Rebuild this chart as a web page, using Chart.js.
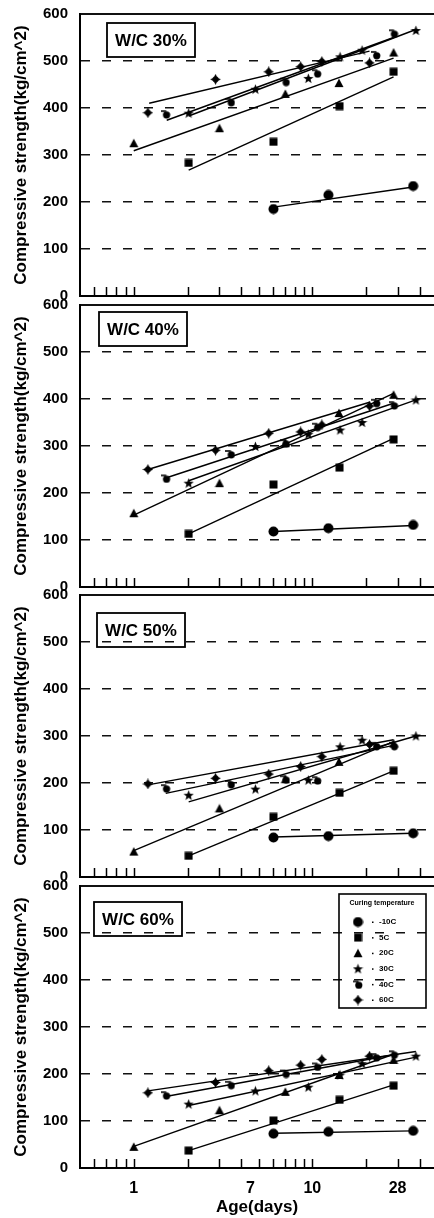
<!DOCTYPE html>
<html lang="en">
<head>
    <meta charset="UTF-8">
    <title>Compressive strength vs age</title>
    <style>
        * { margin: 0; padding: 0; box-sizing: border-box; }
        body { background: #fff; width: 434px; height: 1218px; overflow: hidden; position: relative; }
        .panel { position: absolute; left: 0; width: 434px; }
    </style>
</head>
<body>
    <div class="panel" id="p0"><canvas id="c0"></canvas></div>
    <div class="panel" id="p1"><canvas id="c1"></canvas></div>
    <div class="panel" id="p2"><canvas id="c2"></canvas></div>
    <div class="panel" id="p3"><canvas id="c3"></canvas></div>

    <script src="https://cdn.jsdelivr.net/npm/chart.js"></script>
    <script>
        // ---- data ----
        const panelTitles = ['W/C 30%', 'W/C 40%', 'W/C 50%', 'W/C 60%'];
        const tempLabels = ['-10C', '5C', '20C', '30C', '40C', '60C'];

        // ages (days, as placed on the log axis) for each curing temperature
        const ageM10 = [6.06, 12.3, 36.7];
        const age5 = [2.03, 6.06, 14.2, 28.5];
        const age20 = [1, 3.02, 7.06, 14.1, 28.5];
        const age30 = [2.03, 4.8, 9.5, 14.3, 19, 38];
        const age40 = [1.51, 3.48, 7.06, 10.6, 22.7, 28.5];
        const age60 = [1.2, 2.87, 5.7, 8.6, 11.3, 20.9];
        const ages = [ageM10, age5, age20, age30, age40, age60];

        // strength (kg/cm^2), one row per temperature
        const wc30 = [
            [185, 215, 234],
            [283, 328, 404, 477],
            [325, 357, 430, 453, 518],
            [389, 440, 463, 509, 523, 565],
            [387, 413, 456, 474, 513, 559],
            [390, 461, 477, 488, 499, 496]
        ];
        const wc40 = [
            [118, 125, 132],
            [113, 218, 254, 314],
            [157, 221, 306, 370, 409],
            [221, 299, 325, 334, 350, 398],
            [231, 283, 306, 341, 392, 387],
            [250, 291, 327, 330, 345, 385]
        ];
        const wc50 = [
            [84, 87, 93],
            [45, 128, 179, 226],
            [54, 146, 208, 245, 284],
            [174, 187, 206, 277, 291, 300],
            [189, 198, 208, 206, 279, 279],
            [198, 210, 219, 235, 256, 282]
        ];
        const wc60 = [
            [73, 77, 79],
            [37, 101, 145, 175],
            [45, 123, 162, 198, 230],
            [136, 164, 172, 198, 222, 238],
            [155, 177, 201, 216, 236, 242],
            [160, 182, 207, 219, 231, 238]
        ];

        // fitted lines: [age start, strength start, age end, strength end]
        const fit30 = [[6.06, 189, 36.7, 232], [2.03, 268, 28.5, 466], [1, 309, 28.5, 506],
                       [2.03, 383, 38, 567], [1.53, 374, 28.5, 550], [1.22, 410, 20.9, 521]];
        const fit40 = [[6.06, 118, 36.7, 131], [2.03, 113, 28.5, 316], [1, 153, 28.5, 412],
                       [2.03, 226, 38, 398], [1.51, 232, 28.5, 391], [1.2, 250, 20.9, 393]];
        const fit50 = [[6.06, 85, 36.7, 93], [2.03, 45, 28.5, 226], [1, 56, 28.5, 288],
                       [2.03, 160, 38, 300], [1.51, 178, 28.5, 280], [1.2, 196, 28.5, 292]];
        const fit60 = [[6.06, 74, 36.7, 79], [2.03, 37, 28.5, 177], [1, 46, 28.5, 242],
                       [2.03, 133, 38, 236], [1.51, 152, 28.5, 241], [1.2, 164, 38, 248]];

        const strengths = [wc30, wc40, wc50, wc60];
        const fits = [fit30, fit40, fit50, fit60];

        // axis ticks
        const xTickValues = [1, 4.5, 10, 30];
        const xTickLabels = ['1', '7', '10', '28'];
        const minorTicks = [0.6, 0.7, 0.8, 0.9, 1, 2, 3, 4, 5, 6, 7, 8, 9, 10, 20, 30, 40];

        // ---- layout ----
        const panelTop = [0, 291, 581, 872];
        const panelHeight = [308, 308, 308, 346];
        const boxPos = [[27, 9], [19, 7], [17, 18], [14, 16]];

        Chart.defaults.font.family = '"Liberation Sans", Arial, sans-serif';
        Chart.defaults.color = '#000';
        Chart.defaults.animation = false;

        // marker images
        function makeMark(size, draw) {
            const c = document.createElement('canvas');
            c.width = size;
            c.height = size;
            const g = c.getContext('2d');
            g.fillStyle = '#000';
            g.strokeStyle = '#000';
            draw(g, size);
            return c;
        }
        const circleMark = makeMark(11, (g, s) => { g.beginPath(); g.arc(s / 2, s / 2, 5, 0, Math.PI * 2); g.fill(); });
        const squareMark = makeMark(9, (g, s) => { g.fillRect(0.5, 0.5, 8, 8); });
        const triMark = makeMark(10, (g, s) => {
            g.beginPath(); g.moveTo(5, 0.5); g.lineTo(9.5, 9); g.lineTo(0.5, 9); g.closePath(); g.fill();
        });
        const starMark = makeMark(11, (g, s) => {
            g.beginPath();
            for (let i = 0; i < 10; i++) {
                const a = -Math.PI / 2 + i * Math.PI / 5;
                const r = i % 2 ? 2.3 : 5.4;
                g.lineTo(5.5 + r * Math.cos(a), 5.8 + r * Math.sin(a));
            }
            g.closePath(); g.fill();
        });
        const hookMark = makeMark(10, (g, s) => {
            g.lineWidth = 1.6;
            g.beginPath(); g.moveTo(0, 2); g.lineTo(5.5, 2); g.stroke();
            g.beginPath(); g.arc(5.8, 5.8, 3.6, 0, Math.PI * 2); g.fill();
        });
        const crossMark = makeMark(11, (g, s) => {
            g.beginPath();
            for (let i = 0; i < 8; i++) {
                const a = -Math.PI / 2 + i * Math.PI / 4;
                const r = i % 2 ? 2.6 : 5.4;
                g.lineTo(5.5 + r * Math.cos(a), 5.5 + r * Math.sin(a));
            }
            g.closePath(); g.fill();
            g.beginPath(); g.arc(5.5, 5.5, 3, 0, Math.PI * 2); g.fill();
        });
        const marks = [circleMark, squareMark, triMark, starMark, hookMark, crossMark];

        // small upward tick marks on the bottom axis
        const tickMarks = {
            id: 'tickMarks',
            afterDraw(chart) {
                const sx = chart.scales.x;
                const y = chart.chartArea.bottom;
                const ctx = chart.ctx;
                ctx.save();
                ctx.strokeStyle = '#000';
                ctx.lineWidth = 1.5;
                minorTicks.forEach(v => {
                    const px = Math.round(sx.getPixelForValue(v)) + 0.5;
                    ctx.beginPath();
                    ctx.moveTo(px, y);
                    ctx.lineTo(px, y - 9);
                    ctx.stroke();
                });
                ctx.restore();
            }
        };

        function panelBox(p) {
            return {
                id: 'panelBox' + p,
                afterDatasetsDraw(chart) {
                    const a = chart.chartArea;
                    const ctx = chart.ctx;
                    const bx = a.left + boxPos[p][0];
                    const by = a.top + boxPos[p][1];
                    ctx.save();
                    ctx.lineWidth = 1.8;
                    ctx.strokeStyle = '#000';
                    ctx.strokeRect(bx, by, 88, 34);
                    ctx.fillStyle = '#000';
                    ctx.font = 'bold 17px "Liberation Sans", Arial, sans-serif';
                    ctx.textAlign = 'center';
                    ctx.textBaseline = 'middle';
                    ctx.fillText(panelTitles[p], bx + 44, by + 18);
                    ctx.restore();
                }
            };
        }

        const legendBox = {
            id: 'legendBox',
            afterDatasetsDraw(chart) {
                const a = chart.chartArea;
                const ctx = chart.ctx;
                const bx = a.left + 259;
                const by = a.top + 8;
                ctx.save();
                ctx.lineWidth = 1.6;
                ctx.strokeStyle = '#000';
                ctx.strokeRect(bx, by, 87, 114);
                ctx.fillStyle = '#000';
                ctx.font = 'bold 7px "Liberation Sans", Arial, sans-serif';
                ctx.textBaseline = 'middle';
                ctx.textAlign = 'center';
                ctx.fillText('Curing temperature', bx + 43, by + 9);
                ctx.textAlign = 'left';
                ctx.font = 'bold 8px "Liberation Sans", Arial, sans-serif';
                tempLabels.forEach((t, i) => {
                    const y = by + 28 + i * 15.6;
                    const m = marks[i];
                    ctx.drawImage(m, bx + 19 - m.width / 2, y - m.height / 2);
                    ctx.fillRect(bx + 33, y - 0.5, 1.5, 1.5);
                    ctx.fillText(t, bx + 40, y);
                });
                ctx.restore();
            }
        };

        function buildChart(p) {
            const last = p === 3;
            const wrap = document.getElementById('p' + p);
            wrap.style.top = panelTop[p] + 'px';
            wrap.style.height = panelHeight[p] + 'px';

            const datasets = [];
            for (let i = 0; i < 6; i++) {
                const f = fits[p][i];
                datasets.push({
                    data: [{ x: f[0], y: f[1] }, { x: f[2], y: f[3] }],
                    showLine: true,
                    borderColor: '#000',
                    borderWidth: 1.4,
                    pointRadius: 0
                });
                datasets.push({
                    data: ages[i].map((x, j) => ({ x: x, y: strengths[p][i][j] })),
                    pointStyle: marks[i],
                    pointRadius: 4,
                    borderColor: '#000',
                    backgroundColor: '#000'
                });
            }

            new Chart(document.getElementById('c' + p), {
                type: 'scatter',
                data: { datasets: datasets },
                options: {
                    responsive: true,
                    maintainAspectRatio: false,
                    layout: { autoPadding: false, padding: { top: 14, left: 0, right: 0, bottom: 0 } },
                    plugins: { legend: { display: false }, tooltip: { enabled: false } },
                    scales: {
                        x: {
                            type: 'logarithmic',
                            min: 0.5,
                            max: 48,
                            afterFit: s => { s.height = last ? 50 : 12; },
                            afterBuildTicks: s => { s.ticks = xTickValues.map(v => ({ value: v })); },
                            grid: { display: false, drawTicks: false },
                            border: { width: 2, color: '#000' },
                            ticks: {
                                display: last,
                                autoSkip: false,
                                maxRotation: 0,
                                padding: 11,
                                color: '#000',
                                font: { size: 16, weight: 'bold' },
                                callback: (v, i) => xTickLabels[i]
                            },
                            title: {
                                display: last,
                                text: 'Age(days)',
                                color: '#000',
                                font: { size: 17, weight: 'bold' },
                                padding: 0
                            }
                        },
                        y: {
                            min: 0,
                            max: 600,
                            afterFit: s => { s.width = 80; },
                            ticks: {
                                stepSize: 100,
                                padding: 0,
                                color: '#000',
                                font: { size: 15, weight: 'bold' }
                            },
                            grid: {
                                drawTicks: true,
                                tickLength: 12,
                                tickColor: 'rgba(0,0,0,0)',
                                color: c => (c.tick && c.tick.value === 0) ? 'rgba(0,0,0,0)' : '#111',
                                lineWidth: c => (c.tick && c.tick.value === 600) ? 2 : 1.5
                            },
                            border: {
                                width: 2,
                                color: '#000',
                                dash: c => (c.tick && c.tick.value < 600) ? [9, 12] : []
                            },
                            title: {
                                display: true,
                                text: 'Compressive strength(kg/cm^2)',
                                color: '#000',
                                font: { size: 17, weight: 'bold' },
                                padding: { top: 11, bottom: 0 }
                            }
                        }
                    }
                },
                plugins: last ? [tickMarks, panelBox(p), legendBox] : [tickMarks, panelBox(p)]
            });
        }

        for (let p = 0; p < 4; p++) {
            buildChart(p);
        }
    </script>
</body>
</html>
